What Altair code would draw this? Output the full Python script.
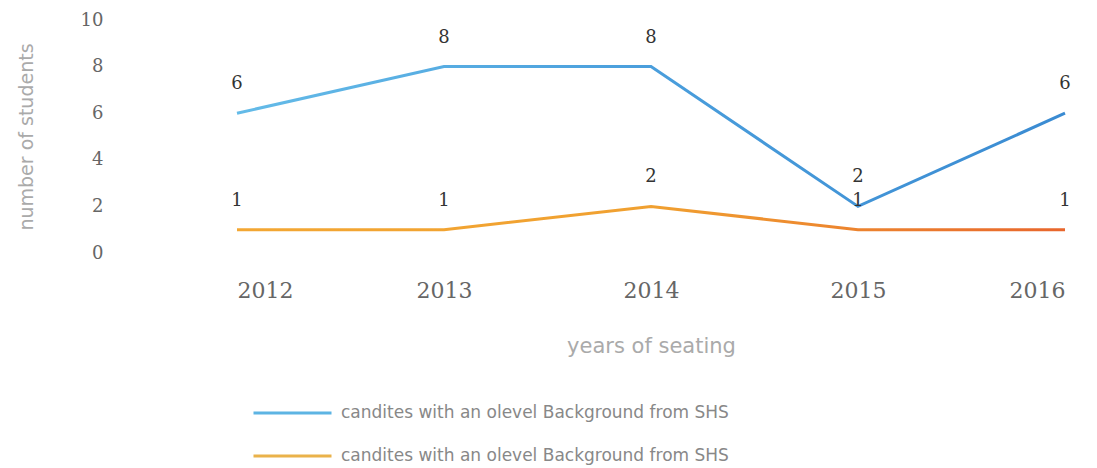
import altair as alt
import pandas as pd

years = [2012, 2013, 2014, 2015, 2016]
series_a = [6, 8, 8, 2, 6]
series_b = [1, 1, 2, 1, 1]
series_names = ["A", "B"]
legend_label = "candites with an olevel Background from SHS"
legend_colors = ["#5db4e3", "#eab24a"]

rows = []
for y, v in zip(years, series_a):
    rows.append({"year": y, "value": v, "series": "A"})
for y, v in zip(years, series_b):
    rows.append({"year": y, "value": v, "series": "B"})
df = pd.DataFrame(rows)

blue_grad = alt.LinearGradient(
    gradient="linear", x1=0, x2=1, y1=0, y2=0,
    stops=[alt.GradientStop(color="#64bbe8", offset=0),
           alt.GradientStop(color="#4a9edc", offset=0.5),
           alt.GradientStop(color="#3a8bd2", offset=1)])
orange_grad = alt.LinearGradient(
    gradient="linear", x1=0, x2=1, y1=0, y2=0,
    stops=[alt.GradientStop(color="#f3a733", offset=0),
           alt.GradientStop(color="#f0a030", offset=0.5),
           alt.GradientStop(color="#e8662c", offset=1)])

x = alt.X("year:Q",
          scale=alt.Scale(domain=[2012, 2016], nice=False, zero=False),
          axis=alt.Axis(values=years, format="d", title="years of seating",
                        domain=False, ticks=False, grid=False,
                        labelFont="DejaVu Serif", labelFontSize=22,
                        labelColor="#666", labelPadding=27,
                        titleFont="DejaVu Sans", titleFontSize=21,
                        titleFontWeight="normal", titleColor="#aaa",
                        titlePadding=34))
y = alt.Y("value:Q",
          scale=alt.Scale(domain=[0, 10], nice=False),
          axis=alt.Axis(values=[0, 2, 4, 6, 8, 10], title="number of students",
                        domain=False, ticks=False, grid=False, offset=130,
                        labelFont="DejaVu Serif", labelFontSize=18,
                        labelColor="#666", labelPadding=4,
                        titleFont="DejaVu Sans", titleFontSize=19,
                        titleFontWeight="normal", titleColor="#aaa",
                        titlePadding=44))
color = alt.Color("series:N",
                  scale=alt.Scale(domain=series_names, range=legend_colors),
                  legend=alt.Legend(title=None, orient="none",
                                    legendX=15, legendY=378,
                                    direction="vertical",
                                    symbolType="stroke", symbolSize=6084,
                                    symbolStrokeWidth=3, symbolOpacity=1,
                                    labelExpr=f"'{legend_label}'",
                                    labelLimit=600,
                                    labelFont="DejaVu Sans", labelFontSize=17,
                                    labelColor="#888", clipHeight=30,
                                    rowPadding=13, labelOffset=8))

base = alt.Chart(df)
legend_layer = base.mark_line(strokeWidth=3, strokeOpacity=0).encode(
    x=x, y=y, color=color)
line_a = base.transform_filter(alt.datum.series == "A").mark_line(
    strokeWidth=3, stroke=blue_grad).encode(x="year:Q", y="value:Q")
line_b = base.transform_filter(alt.datum.series == "B").mark_line(
    strokeWidth=3, stroke=orange_grad).encode(x="year:Q", y="value:Q")
labels = base.mark_text(dy=-29, font="DejaVu Serif", fontSize=18,
                        color="#333").encode(
    x="year:Q", y="value:Q", text="value:Q")

chart = (legend_layer + line_a + line_b + labels).properties(
    width=828, height=233,
    background="white",
    autosize=alt.AutoSizeParams(type="none"),
    padding={"left": 237, "top": 20, "right": 32, "bottom": 215},
).configure_view(stroke=None)

chart.save("out.html", embed_options={"renderer": "svg", "actions": False})
